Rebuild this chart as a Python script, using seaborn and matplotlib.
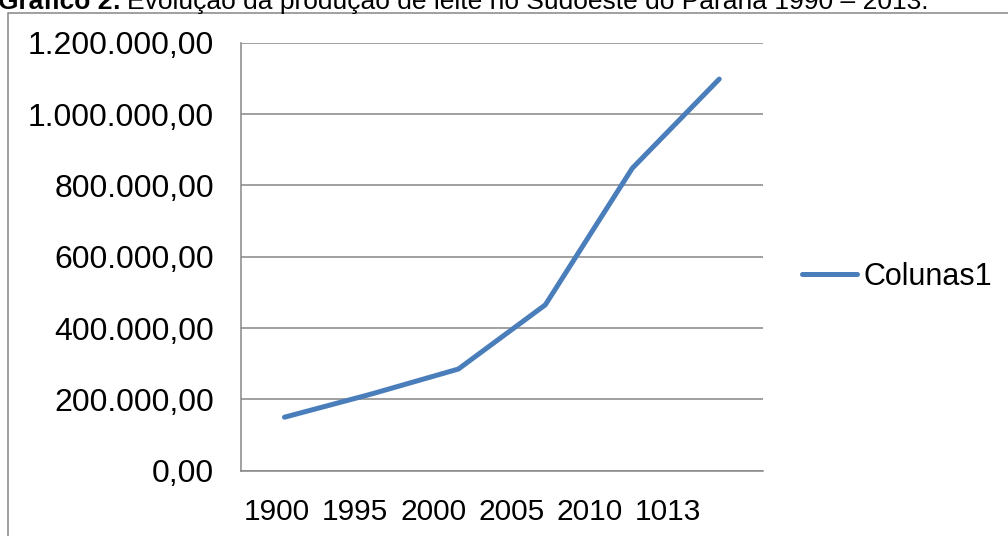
import matplotlib
matplotlib.use("Agg")
import matplotlib.pyplot as plt
from matplotlib.patches import Rectangle
from matplotlib.ticker import FuncFormatter, FixedLocator, NullFormatter
import pandas as pd
import seaborn as sns

# Milk production, Sudoeste do Paraná
years = ["1900", "1995", "2000", "2005", "2010", "1013"]
production = [150000, 215000, 285000, 465000, 848000, 1098000]
y_ticks = [0, 200000, 400000, 600000, 800000, 1000000, 1200000]
series_name = "Colunas1"
title_bold = "Gráfico 2:"
title_rest = "Evolução da produção de leite no Sudoeste do Paraná 1990 – 2013."

df = pd.DataFrame({"ano": years, "valor": production})

sns.set_theme(style="white")
plt.rcParams["font.family"] = ["Liberation Sans", "DejaVu Sans"]
plt.rcParams["text.color"] = "black"

W, H = 1008, 536
fig = plt.figure(figsize=(W / 100, H / 100), dpi=100)
ax = fig.add_axes([241 / W, 1 - 470.7 / H, (762.7 - 241) / W, (470.7 - 42.7) / H])

grey = "#868686"
blue = "#4a7ebb"

sns.lineplot(data=df, x="ano", y="valor", ax=ax, color=blue, linewidth=3.6,
             label=series_name, sort=False)
for ln in ax.get_lines():
    ln.set_solid_capstyle("round")
    ln.set_solid_joinstyle("round")

n = len(years)
ax.set_xlim(-0.5, n - 0.5)
ax.set_ylim(0, 1200000)
ax.set_yticks(y_ticks)


def br_fmt(v, _pos):
    s = f"{v:,.2f}"
    return s.replace(",", "X").replace(".", ",").replace("X", ".")


ax.yaxis.set_major_formatter(FuncFormatter(br_fmt))

# Category boundaries carry the tick marks; labels sit on minor ticks
ax.xaxis.set_major_locator(FixedLocator([i - 0.5 for i in range(n + 1)]))
ax.xaxis.set_major_formatter(NullFormatter())
ax.xaxis.set_minor_locator(FixedLocator([i * 0.898 - 0.085 for i in range(n)]))
ax.set_xticklabels(years, minor=True)
ax.tick_params(axis="x", which="minor", length=0, pad=20, labelsize=21.5,
               labelcolor="black")
ax.tick_params(axis="x", which="major", length=7, width=1.1, color=grey,
               direction="out")
ax.tick_params(axis="y", which="major", length=7, width=1.1, color=grey,
               direction="out", pad=12.5, labelsize=23, labelcolor="black")

ax.grid(axis="y", color=grey, linewidth=1.1)
ax.grid(axis="x", visible=False)
ax.set_axisbelow(True)
ax.set_xlabel("")
ax.set_ylabel("")
for side in ("top", "right"):
    ax.spines[side].set_visible(False)
for side in ("left", "bottom"):
    ax.spines[side].set_color(grey)
    ax.spines[side].set_linewidth(1.1)

leg = ax.legend(loc="center left", bbox_to_anchor=(802 / W, 1 - 277 / H),
                bbox_transform=fig.transFigure, frameon=False, fontsize=22,
                handlelength=1.8, handletextpad=0.2, borderpad=0,
                borderaxespad=0)
for txt in leg.get_texts():
    txt.set_color("black")
for h in leg.get_lines():
    h.set_solid_capstyle("round")
    h.set_linewidth(3.6)

# Outer frame of the chart area
fig.patches.append(Rectangle((8 / W, -0.05), 1.1, 1 - 13 / H + 0.05,
                             transform=fig.transFigure, fill=False,
                             edgecolor=grey, linewidth=1.1))

# Caption, partly above the top edge
t1 = fig.text(-2 / W, 1 - 9 / H, title_bold, fontsize=19, fontweight="bold",
              ha="left", va="baseline")
fig.canvas.draw()
bb = t1.get_window_extent()
fig.text(bb.x1 / W + 6 / W, 1 - 9 / H, title_rest, fontsize=19,
         ha="left", va="baseline")

fig.savefig("out.png", dpi=100)
